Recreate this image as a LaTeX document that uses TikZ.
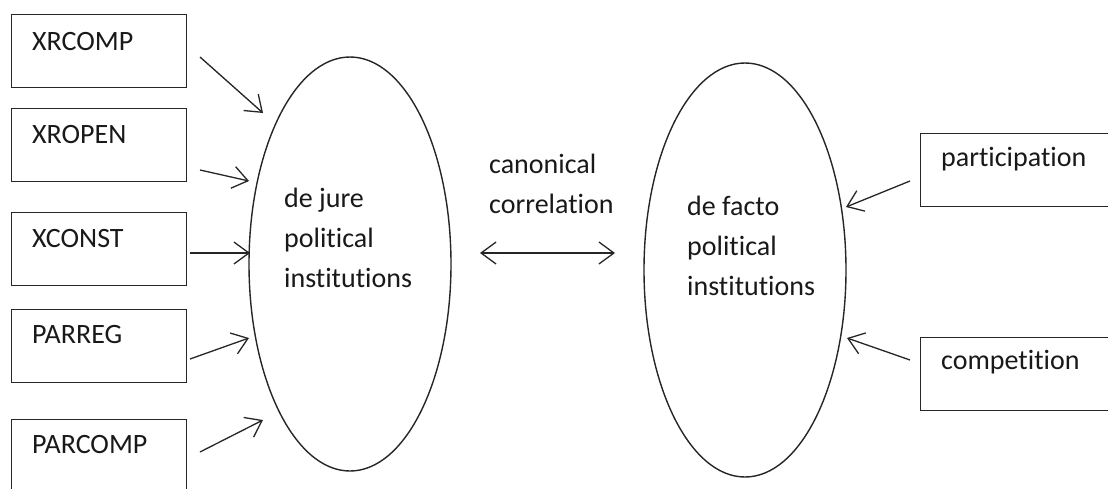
\documentclass[tikz,border=0pt]{standalone}
\usepackage{fontspec}
\setmainfont{Carlito}[Ligatures=NoCommon]
\usetikzlibrary{arrows.meta,shapes.geometric,calc}
\begin{document}
\begin{tikzpicture}[x=1pt,y=-1pt,
  box/.style={draw=black!85, line width=1.4pt, rectangle, anchor=north west,
    minimum width=175pt, minimum height=73pt, inner sep=0pt},
  rbox/.style={box, minimum width=200pt},
  oval/.style={draw=black!85, line width=1.4pt, ellipse, inner sep=0pt,
    minimum width=202pt, minimum height=414pt},
  lbl/.style={anchor=west, inner sep=0pt, font=\fontsize{28}{40}\selectfont, text=black!90},
  mlbl/.style={lbl, align=left},
  arr/.style={draw=black!85, line width=1.3pt, -{Straight Barb[length=15pt,width=22pt]}},
  darr/.style={draw=black!85, line width=1.3pt, {Straight Barb[length=15pt,width=22pt]}-{Straight Barb[length=15pt,width=22pt]}}
]
\useasboundingbox (0,0) rectangle (1108,488);
\clip (0,0) rectangle (1108,488);
\fill[white] (0,0) rectangle (1108,488);

% left boxes
\node[box] (xrcomp) at (11,14) {};
\node[box] (xropen) at (11,108) {};
\node[box] (xconst) at (11,212) {};
\node[box] (parreg) at (11,309) {};
\node[box] (parcomp) at (11,419) {};
\node[lbl] (xrcompT) at (32,42) {XRCOMP};
\node[lbl] (xropenT) at (32,135) {XROPEN};
\node[lbl] (xconstT) at (32,239) {XCONST};
\node[lbl] (parregT) at (32,335) {PARREG};
\node[lbl] (parcompT) at (32,445) {PARCOMP};

% right boxes
\node[rbox] (part) at (920,133) {};
\node[rbox] (comp) at (920,337) {};
\node[lbl] (partT) at (941,159) {participation};
\node[lbl] (compT) at (941,362) {competition};

% ellipses
\node[oval] (dejure) at (350,264) {};
\node[oval] (defacto) at (745,270) {};
\node[mlbl] (dejureT) at (284,238) {de jure\\political\\institutions};
\node[mlbl] (defactoT) at (687,246) {de facto\\political\\institutions};

% canonical correlation
\node[mlbl] (canT) at (489,184) {canonical\\correlation};

% arrow coordinates
\coordinate (s1) at (200,57);  \coordinate (e1) at (263,113);
\coordinate (s2) at (200,170); \coordinate (e2) at (249,181);
\coordinate (s3) at (190,253); \coordinate (e3) at (250,253);
\coordinate (s4) at (190,359); \coordinate (e4) at (249,338);
\coordinate (s5) at (200,452); \coordinate (e5) at (263,420);
\coordinate (s6) at (910,181); \coordinate (e6) at (846,207);
\coordinate (s7) at (910,360); \coordinate (e7) at (847,338);
\coordinate (cl) at (480,253); \coordinate (cr) at (615,253);

\draw[arr] (s1) -- (e1);
\draw[arr] (s2) -- (e2);
\draw[arr] (s3) -- (e3);
\draw[arr] (s4) -- (e4);
\draw[arr] (s5) -- (e5);
\draw[arr] (s6) -- (e6);
\draw[arr] (s7) -- (e7);
\draw[darr] (cl) -- (cr);
\end{tikzpicture}
\end{document}
